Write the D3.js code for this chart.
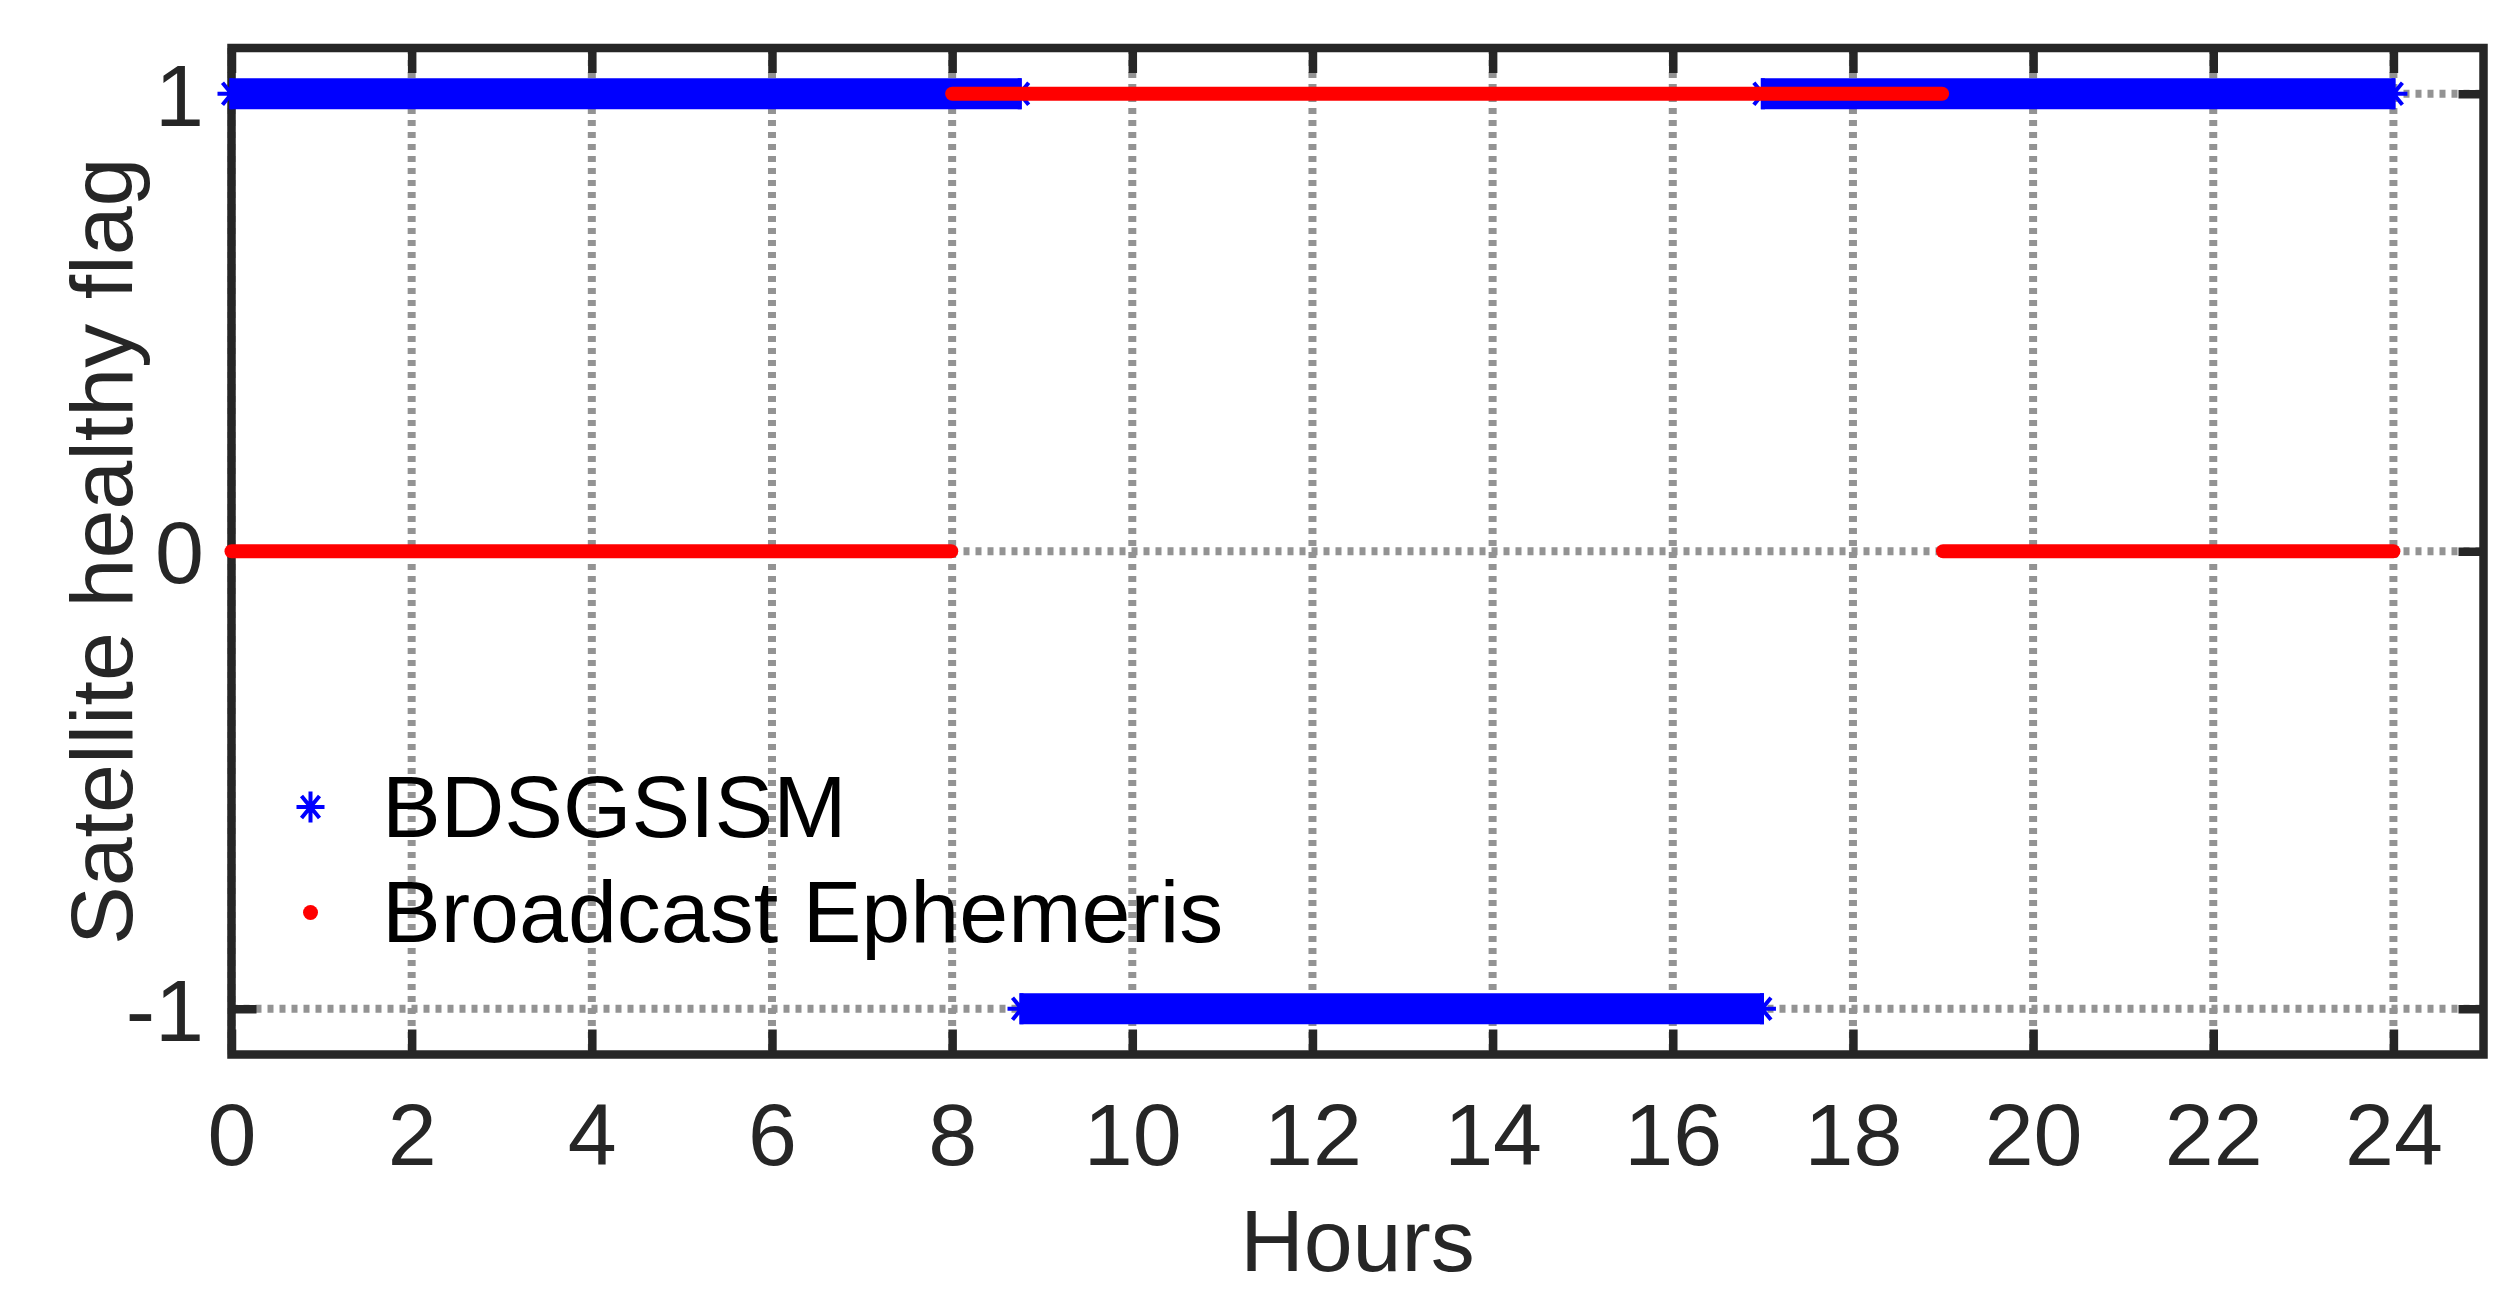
<!DOCTYPE html>
<html>
<head>
<meta charset="utf-8">
<script src="https://cdn.jsdelivr.net/npm/d3@7"></script>
<style>
  body { margin: 0; background: #fff; }
  svg { display: block; font-family: "Liberation Sans", Arial, Helvetica, sans-serif; }
</style>
</head>
<body>
<svg id="chart" width="2520" height="1291"></svg>
<script>
// satellite health flag, step segments (hours)
const bdsStart = [0, 8.77, 17.0];
const bdsEnd = [8.75, 16.99, 24.0];
const bdsFlag = [1, -1, 1];

const brdcStart = [0, 8.0, 19.0];
const brdcEnd = [7.99, 18.99, 24.0];
const brdcFlag = [0, 1, 0];

const xTicks = [0, 2, 4, 6, 8, 10, 12, 14, 16, 18, 20, 22, 24];
const yTicks = [-1, 0, 1];
const seriesNames = ['BDSGSISM', 'Broadcast Ephemeris'];

const W = 2520, H = 1291;
const margin = { top: 48, right: 36.5, bottom: 236.5, left: 231.5 };
const axisColor = '#262626';
const fontSize = 88;

const svg = d3.select('#chart');
svg.append('rect').attr('width', W).attr('height', H).attr('fill', '#fff');

const x = d3.scaleLinear().domain([0, 25]).range([margin.left, W - margin.right]);
const y = d3.scaleLinear().domain([-1.1, 1.1]).range([H - margin.bottom, margin.top]);

const [x0, x1] = x.range();
const [y0, y1] = y.range();

// dotted grid
const grid = svg.append('g')
  .attr('stroke', '#939393')
  .attr('stroke-width', 8)
  .attr('stroke-dasharray', '6,6');
grid.selectAll('.gx').data(xTicks).join('line')
  .attr('x1', d => x(d)).attr('x2', d => x(d))
  .attr('y1', y1).attr('y2', y0);
grid.selectAll('.gy').data(yTicks).join('line')
  .attr('y1', d => y(d)).attr('y2', d => y(d))
  .attr('x1', x0).attr('x2', x1);

// axes, ticks pointing inward
function styleAxis(g) {
  g.select('.domain').remove();
  g.selectAll('.tick line').attr('stroke', axisColor).attr('stroke-width', 8.5);
  g.selectAll('.tick text')
    .attr('fill', axisColor)
    .attr('font-size', fontSize)
    .attr('font-family', '"Liberation Sans", Arial, sans-serif');
}

svg.append('g')
  .attr('transform', `translate(0,${y0})`)
  .call(d3.axisBottom(x).tickValues(xTicks).tickSize(-25).tickPadding(48).tickFormat(d => String(d)))
  .call(styleAxis);

svg.append('g')
  .attr('transform', `translate(0,${y1})`)
  .call(d3.axisTop(x).tickValues(xTicks).tickSize(-25).tickFormat(''))
  .call(styleAxis);

svg.append('g')
  .attr('transform', `translate(${x0},0)`)
  .call(d3.axisLeft(y).tickValues(yTicks).tickSize(-25).tickPadding(27.5).tickFormat(d => String(d)))
  .call(styleAxis)
  .selectAll('.tick text').attr('dy', '0.36em');

svg.append('g')
  .attr('transform', `translate(${x1},0)`)
  .call(d3.axisRight(y).tickValues(yTicks).tickSize(-25).tickFormat(''))
  .call(styleAxis);

svg.append('rect')
  .attr('x', x0).attr('y', y1)
  .attr('width', x1 - x0).attr('height', y0 - y1)
  .attr('fill', 'none')
  .attr('stroke', axisColor)
  .attr('stroke-width', 8.5);

// asterisk marker like matlab '*'
const starPath = 'M-14,0H14M0,-15.5V15.5M-9,-11L9,11M-9,11L9,-11';

const bds = bdsStart.map((s, i) => ({ start: s, end: bdsEnd[i], flag: bdsFlag[i] }));
const brdc = brdcStart.map((s, i) => ({ start: s, end: brdcEnd[i], flag: brdcFlag[i] }));

// dense star samples merge into a solid band
const blue = svg.append('g').attr('fill', '#0000ff').attr('stroke', '#0000ff');
blue.selectAll('rect').data(bds).join('rect')
  .attr('x', d => x(d.start) - 2)
  .attr('width', d => x(d.end) - x(d.start) + 4)
  .attr('y', d => y(d.flag) - 15.5)
  .attr('height', 31)
  .attr('stroke', 'none');
blue.selectAll('path')
  .data(bds.flatMap(d => [{ t: d.start, v: d.flag }, { t: d.end, v: d.flag }]))
  .join('path')
  .attr('d', starPath)
  .attr('transform', d => `translate(${x(d.t)},${y(d.v)})`)
  .attr('fill', 'none')
  .attr('stroke-width', 4);

// dense dot samples merge into a round-capped line
svg.append('g').selectAll('line').data(brdc).join('line')
  .attr('x1', d => x(d.start)).attr('x2', d => x(d.end))
  .attr('y1', d => y(d.flag)).attr('y2', d => y(d.flag))
  .attr('stroke', '#ff0000')
  .attr('stroke-width', 14)
  .attr('stroke-linecap', 'round');

// legend, no box
const legend = svg.append('g');
legend.append('path')
  .attr('d', starPath)
  .attr('transform', 'translate(310.5,807)')
  .attr('fill', 'none')
  .attr('stroke', '#0000ff')
  .attr('stroke-width', 4);
legend.append('circle')
  .attr('cx', 310.5).attr('cy', 912.5).attr('r', 7.5)
  .attr('fill', '#ff0000');
legend.selectAll('text').data(seriesNames).join('text')
  .attr('x', 382)
  .attr('y', (d, i) => 837 + i * 105)
  .attr('font-size', fontSize)
  .attr('fill', '#000')
  .text(d => d);

// axis titles
svg.append('text')
  .attr('x', (x0 + x1) / 2).attr('y', 1271)
  .attr('text-anchor', 'middle')
  .attr('font-size', fontSize)
  .attr('fill', axisColor)
  .text('Hours');

svg.append('text')
  .attr('transform', `translate(132,${(y0 + y1) / 2}) rotate(-90)`)
  .attr('text-anchor', 'middle')
  .attr('font-size', fontSize)
  .attr('fill', axisColor)
  .text('Satellite healthy flag');
</script>
</body>
</html>
